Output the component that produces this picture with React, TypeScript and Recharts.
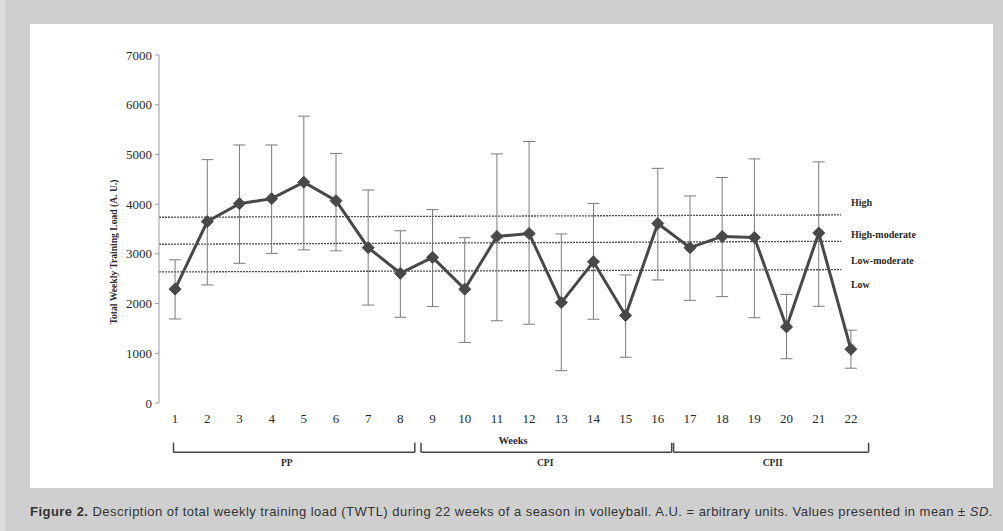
import React from 'react';
import {
  ComposedChart,
  Line,
  XAxis,
  YAxis,
  ErrorBar,
  ReferenceLine,
  ReferenceDot,
} from 'recharts';

// ---- data ----
const weeks = [1, 2, 3, 4, 5, 6, 7, 8, 9, 10, 11, 12, 13, 14, 15, 16, 17, 18, 19, 20, 21, 22];
const meanLoad = [2290, 3650, 4010, 4110, 4440, 4070, 3125, 2610, 2930, 2290, 3350, 3410, 2020, 2840, 1760, 3610, 3125, 3350, 3330, 1530, 3420, 1080];
const upperLoad = [2880, 4895, 5190, 5190, 5770, 5020, 4285, 3465, 3890, 3325, 5010, 5260, 3400, 4015, 2575, 4720, 4165, 4535, 4910, 2185, 4850, 1465];
const lowerLoad = [1690, 2375, 2810, 3010, 3080, 3060, 1970, 1725, 1940, 1220, 1655, 1585, 650, 1685, 920, 2475, 2065, 2140, 1715, 890, 1945, 700];

const yTicks = [0, 1000, 2000, 3000, 4000, 5000, 6000, 7000];
const bandTicks = [0.5, 1.5, 2.5, 3.5, 4.5, 5.5, 6.5, 7.5, 8.5, 9.5, 10.5, 11.5, 12.5, 13.5, 14.5, 15.5, 16.5, 17.5, 18.5, 19.5, 20.5, 21.5, 22.5];

// zone threshold lines (left value, right value)
const zoneLineStart = [3736, 3193, 2636];
const zoneLineEnd = [3783, 3253, 2682];
const zoneLineFromWeek = 0.5;
const zoneLineToWeek = 21.7;

const zoneLabels = ['High', 'High-moderate', 'Low-moderate', 'Low'];
const zoneLabelY = [4044, 3400, 2877, 2394];
const zoneLabelWeek = 22.0;

// training phases
const phaseNames = ['PP', 'CPI', 'CPII'];
const phaseStart = [0.95, 8.64, 16.49];
const phaseEnd = [8.45, 16.43, 22.55];
const phaseLabelWeek = [4.47, 12.5, 19.57];
const bracketLevel = -990;
const bracketTickTop = -800;
const phaseLabelLevel = -1190;
const weeksLabelLevel = -744;
const weeksLabelWeek = 11.5;

const data = weeks.map((w, i) => ({
  week: w,
  mean: meanLoad[i],
  err: [meanLoad[i] - lowerLoad[i], upperLoad[i] - meanLoad[i]],
}));

const SERIF = '"Liberation Serif", "Times New Roman", serif';
const INK = '#2a2a2a';
const LINE = '#484848';

const Diamond = (props: any) => {
  const { cx, cy, index } = props;
  if (cx == null || cy == null) return null;
  const s = 6;
  return (
    <path
      key={`d-${index}`}
      d={`M${cx},${cy - s} L${cx + s},${cy} L${cx},${cy + s} L${cx - s},${cy} Z`}
      fill={LINE}
      stroke={LINE}
      strokeWidth={1}
    />
  );
};

const YLabel = (props: any) => {
  const vb = props.viewBox || {};
  const x = vb.x + 53;
  const y = vb.y + vb.height / 2 + 23;
  return (
    <text
      x={x}
      y={y}
      transform={`rotate(-90 ${x} ${y})`}
      textAnchor="middle"
      dominantBaseline="central"
      fontFamily={SERIF}
      fontWeight="bold"
      fontSize={9.6}
      fill={INK}
    >
      Total Weekly Training Load (A. U.)
    </text>
  );
};

export default function App() {
  return (
    <div
      style={{
        position: 'absolute',
        left: 0,
        top: 0,
        width: 1003,
        height: 531,
        background: '#cfcfcf',
        overflow: 'hidden',
      }}
    >
      <div style={{ position: 'absolute', left: 0, top: 0, width: 5, height: 531, background: '#dcdcdc' }} />
      <div
        style={{
          position: 'absolute',
          left: 30,
          top: 24,
          width: 963,
          height: 464,
          background: '#ffffff',
        }}
      />
      <div style={{ position: 'absolute', left: 0, top: 0 }}>
        <ComposedChart
          width={1003}
          height={531}
          data={data}
          margin={{ top: 55, right: 136, bottom: 98, left: 60 }}
        >
          <XAxis
            xAxisId="t"
            dataKey="week"
            type="number"
            domain={[0.5, 22.5]}
            ticks={bandTicks}
            tickFormatter={() => ''}
            tickSize={4}
            height={0}
            stroke="#9a9a9a"
            axisLine={{ stroke: '#9a9a9a' }}
            tickLine={{ stroke: '#9a9a9a' }}
            allowDataOverflow
          />
          <XAxis
            xAxisId="m"
            dataKey="week"
            type="number"
            domain={[0.5, 22.5]}
            ticks={weeks}
            interval={0}
            tickLine={false}
            axisLine={false}
            tickSize={0}
            tickMargin={11}
            height={30}
            tick={{ fontFamily: SERIF, fontSize: 13, fill: INK }}
            allowDataOverflow
          />
          <YAxis
            domain={[0, 7000]}
            ticks={yTicks}
            width={99}
            tickSize={4}
            tickMargin={3}
            interval={0}
            stroke="#9a9a9a"
            axisLine={{ stroke: '#9a9a9a' }}
            tickLine={{ stroke: '#9a9a9a' }}
            tick={{ fontFamily: SERIF, fontSize: 13, fill: INK }}
            label={<YLabel />}
            allowDataOverflow
          />

          {zoneLineStart.map((v, i) => (
            <ReferenceLine
              key={`z-${i}`}
              xAxisId="m"
              segment={[
                { x: zoneLineFromWeek, y: v },
                { x: zoneLineToWeek, y: zoneLineEnd[i] },
              ]}
              stroke="#4d4d4d"
              strokeWidth={1.3}
              strokeDasharray="2 1"
              ifOverflow="visible"
            />
          ))}

          {zoneLabels.map((lab, i) => (
            <ReferenceDot
              key={`zl-${i}`}
              xAxisId="m"
              x={zoneLabelWeek}
              y={zoneLabelY[i]}
              r={0}
              fillOpacity={0}
              stroke="none"
              ifOverflow="visible"
              label={{
                value: lab,
                position: 'right',
                offset: 0,
                fontFamily: SERIF,
                fontWeight: 'bold',
                fontSize: 10,
                fill: INK,
              }}
            />
          ))}

          <Line
            xAxisId="m"
            type="linear"
            dataKey="mean"
            stroke={LINE}
            strokeWidth={3}
            dot={<Diamond />}
            activeDot={false}
            isAnimationActive={false}
          >
            <ErrorBar
              dataKey="err"
              direction="y"
              width={6}
              stroke="#7a7a7a"
              strokeWidth={1}
              isAnimationActive={false}
            />
          </Line>

          {/* phase brackets */}
          {phaseNames.map((name, i) => (
            <ReferenceLine
              key={`pb-${i}`}
              xAxisId="m"
              segment={[
                { x: phaseStart[i], y: bracketLevel },
                { x: phaseEnd[i], y: bracketLevel },
              ]}
              stroke="#444"
              strokeWidth={1.5}
              ifOverflow="visible"
            />
          ))}
          {phaseNames.map((name, i) => (
            <ReferenceLine
              key={`pl-${i}`}
              xAxisId="m"
              segment={[
                { x: phaseStart[i], y: bracketTickTop },
                { x: phaseStart[i], y: bracketLevel },
              ]}
              stroke="#444"
              strokeWidth={1.5}
              ifOverflow="visible"
            />
          ))}
          {phaseNames.map((name, i) => (
            <ReferenceLine
              key={`pr-${i}`}
              xAxisId="m"
              segment={[
                { x: phaseEnd[i], y: bracketTickTop },
                { x: phaseEnd[i], y: bracketLevel },
              ]}
              stroke="#444"
              strokeWidth={1.5}
              ifOverflow="visible"
            />
          ))}
          {phaseNames.map((name, i) => (
            <ReferenceDot
              key={`pn-${i}`}
              xAxisId="m"
              x={phaseLabelWeek[i]}
              y={phaseLabelLevel}
              r={0}
              fillOpacity={0}
              stroke="none"
              ifOverflow="visible"
              label={{
                value: name,
                position: 'center',
                fontFamily: SERIF,
                fontWeight: 'bold',
                fontSize: 9.5,
                fill: INK,
              }}
            />
          ))}
          <ReferenceDot
            xAxisId="m"
            x={weeksLabelWeek}
            y={weeksLabelLevel}
            r={0}
            fillOpacity={0}
            stroke="none"
            ifOverflow="visible"
            label={{
              value: 'Weeks',
              position: 'center',
              fontFamily: SERIF,
              fontWeight: 'bold',
              fontSize: 10.5,
              fill: INK,
            }}
          />
        </ComposedChart>
      </div>
      <div
        style={{
          position: 'absolute',
          left: 30,
          top: 503,
          width: 970,
          whiteSpace: 'nowrap',
          fontFamily: '"Liberation Sans", Arial, sans-serif',
          fontSize: 13,
          letterSpacing: 0.47,
          color: '#333',
          lineHeight: '17px',
        }}
      >
        <b>Figure 2.</b> Description of total weekly training load (TWTL) during 22 weeks of a season in
        volleyball. A.U. = arbitrary units. Values presented in mean ± <i>SD</i>.
      </div>
    </div>
  );
}
